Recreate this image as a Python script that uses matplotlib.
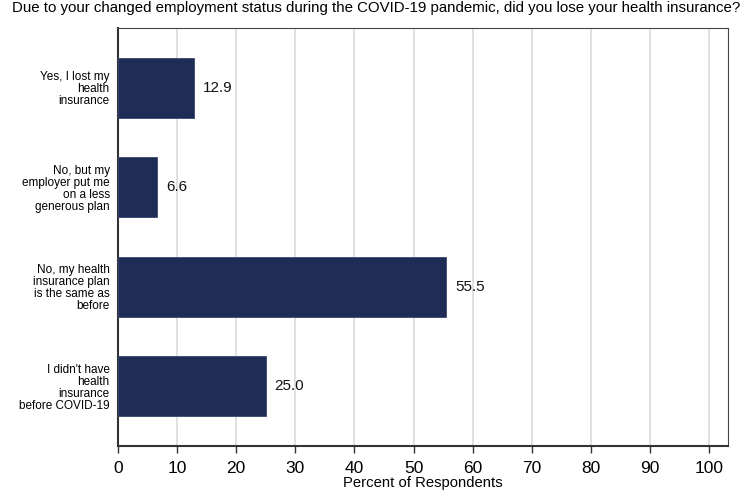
import matplotlib.pyplot as plt

plt.rcParams['font.family'] = ['Liberation Sans', 'DejaVu Sans']

# data
labels = ["Yes, I lost my\nhealth\ninsurance",
          "No, but my\nemployer put me\non a less\ngenerous plan",
          "No, my health\ninsurance plan\nis the same as\nbefore",
          "I didn't have\nhealth\ninsurance\nbefore COVID-19"]
values = [12.9, 6.6, 55.5, 25.0]
xticks = list(range(0, 101, 10))

title = "Due to your changed employment status during the COVID-19 pandemic, did you lose your health insurance?"

fig = plt.figure(figsize=(7.53, 4.93), dpi=100)
ax = fig.add_axes([0.1567, 0.0953, 0.8101, 0.8479])

pos = list(range(len(values)))
ax.barh(pos, values, height=0.6, color='#1F2C56', edgecolor='#3a4670', linewidth=0.6, zorder=3)

for p, v in zip(pos, values):
    ax.text(v + 1.5, p, f"{v:.1f}", va='center', ha='left', fontsize=11, color='#111111')

ax.set_ylim(3.6, -0.6)
ax.set_xlim(0, 103.2)
ax.set_yticks(pos)
ax.set_yticklabels(labels, fontsize=8.5, linespacing=1.0)
ax.tick_params(axis='y', length=0, pad=6)

ax.set_xticks(xticks)
ax.tick_params(axis='x', labelsize=12.5, length=5, width=1, color='#333333', pad=6)
ax.xaxis.grid(True, color='#dcdcdc', linewidth=1.2, zorder=0)
ax.set_axisbelow(True)

for s in ['top', 'right']:
    ax.spines[s].set_color('#444444')
    ax.spines[s].set_linewidth(0.8)
for s in ['left', 'bottom']:
    ax.spines[s].set_color('#333333')
    ax.spines[s].set_linewidth(1.5)

ax.set_xlabel("Percent of Respondents", fontsize=10.7, labelpad=0)
fig.suptitle(title, fontsize=10.8, y=0.998, va='top')

fig.savefig("out.png", dpi=100)
